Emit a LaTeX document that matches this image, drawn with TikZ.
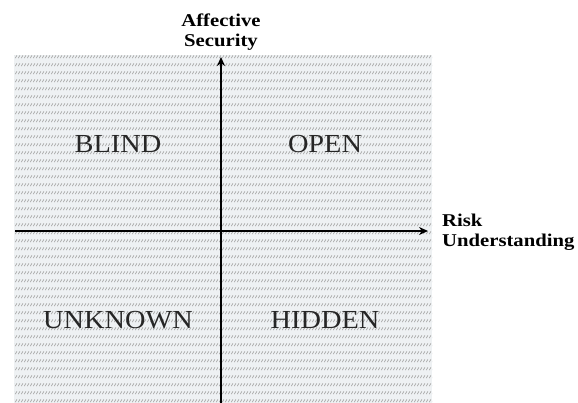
\documentclass[tikz,border=0pt]{standalone}
\usepackage{fontspec}
\setmainfont{Liberation Serif}
\newfontfamily\quadfont[FakeStretch=1.09]{Liberation Serif}
\newfontfamily\axfont[FakeStretch=1.15]{Liberation Serif}
\usetikzlibrary{patterns,arrows.meta}

\definecolor{paper}{RGB}{238,241,243}

% rows of short slanted strokes, like the shaded grid
\pgfdeclarepatternformonly{strokerows}{\pgfpointorigin}{\pgfpoint{3pt}{7.5pt}}{\pgfpoint{3pt}{7.5pt}}{
  \pgfsetlinewidth{0.9pt}
  \pgfpathmoveto{\pgfpoint{0.3pt}{0.9pt}}
  \pgfpathlineto{\pgfpoint{2.6pt}{3.9pt}}
  \pgfusepath{stroke}
}

\tikzset{
  quad/.style={font=\quadfont\fontsize{26}{26}\selectfont, text=black!85, inner sep=0pt},
  axlabel/.style={font=\axfont\fontsize{18}{19.5}\selectfont\bfseries, inner sep=0pt},
  axis/.style={line width=2.4pt, -{Stealth[length=9pt,width=8pt]}}
}

\begin{document}
\begin{tikzpicture}[x=1pt, y=-1pt]
					\useasboundingbox (0,0) rectangle (578,403);
					\fill[paper] (14,55) rectangle (432,403);
					\fill[pattern=strokerows, pattern color=gray!65] (14,55) rectangle (432,403);
					\node[quad] (BL) at (118,144) {BLIND};
					\node[quad] (OP) at (325,144) {OPEN};
					\node[quad] (UN) at (118,320) {UNKNOWN};
					\node[quad] (HI) at (325,320) {HIDDEN};
					\coordinate (S) at (221,403);
					\coordinate (N) at (221,57);
					\coordinate (W) at (15,231);
					\coordinate (E) at (428,231);
					\node[axlabel, align=center, anchor=north] (AS) at (221,14) {Affective\\Security};
					\node[axlabel, align=left, anchor=north west] (RU) at (442,214) {Risk\\Understanding};
					\draw[axis] (S) -- (N);
					\draw[axis] (W) -- (E);
				\end{tikzpicture}
\end{document}
